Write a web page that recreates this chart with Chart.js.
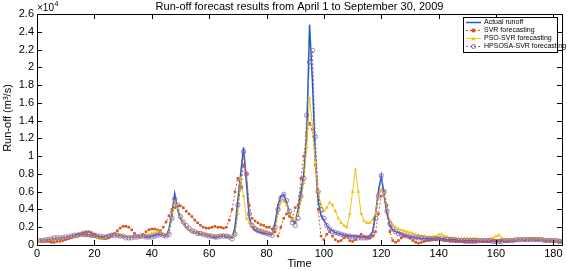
<!DOCTYPE html>
<html>
<head>
<meta charset="utf-8">
<script src="https://cdn.jsdelivr.net/npm/chart.js@4.4.0/dist/chart.umd.min.js"></script>
<style>
  html, body { margin: 0; padding: 0; background: #fff; }
</style>
</head>
<body>
<canvas id="runoff" width="567" height="271"></canvas>
<script>
// values are in units of 10^4 m3/s, days 1..183
var actual = [
  0.05,0.05,0.06,0.06,0.06,0.07,0.07,0.07,0.08,0.08,
  0.09,0.10,0.11,0.12,0.12,0.12,0.12,0.11,0.11,0.10,
  0.10,0.09,0.09,0.10,0.11,0.12,0.12,0.11,0.10,0.10,
  0.09,0.09,0.09,0.10,0.10,0.10,0.10,0.09,0.09,0.10,
  0.11,0.12,0.12,0.11,0.10,0.18,0.35,0.58,0.40,0.30,
  0.25,0.20,0.17,0.15,0.14,0.13,0.12,0.12,0.11,0.10,
  0.09,0.08,0.09,0.10,0.10,0.09,0.09,0.08,0.20,0.50,
  0.80,1.10,0.70,0.30,0.20,0.17,0.15,0.14,0.13,0.13,
  0.12,0.12,0.25,0.45,0.55,0.57,0.48,0.35,0.27,0.25,
  0.40,0.60,0.80,1.20,2.48,1.85,1.00,0.50,0.33,0.28,
  0.22,0.18,0.16,0.14,0.13,0.12,0.11,0.11,0.10,0.10,
  0.10,0.09,0.09,0.09,0.09,0.10,0.15,0.35,0.60,0.78,
  0.55,0.35,0.22,0.17,0.15,0.14,0.12,0.11,0.10,0.09,
  0.09,0.08,0.08,0.07,0.07,0.07,0.07,0.07,0.08,0.08,
  0.07,0.07,0.06,0.06,0.06,0.06,0.05,0.05,0.05,0.05,
  0.05,0.05,0.05,0.05,0.05,0.04,0.04,0.04,0.04,0.04,
  0.04,0.04,0.05,0.05,0.05,0.05,0.05,0.05,0.05,0.06,
  0.06,0.06,0.06,0.06,0.06,0.05,0.05,0.05,0.05,0.05,0.04,0.04,0.04
];
var svr = [
  0.05,0.04,0.04,0.04,0.03,0.03,0.04,0.04,0.05,0.06,
  0.07,0.08,0.09,0.10,0.12,0.14,0.15,0.15,0.14,0.12,
  0.10,0.08,0.07,0.07,0.08,0.10,0.13,0.16,0.19,0.21,
  0.21,0.20,0.17,0.13,0.10,0.09,0.12,0.15,0.17,0.18,
  0.18,0.17,0.16,0.20,0.26,0.33,0.40,0.42,0.44,0.44,
  0.42,0.38,0.35,0.32,0.28,0.25,0.22,0.20,0.19,0.19,
  0.20,0.21,0.20,0.20,0.19,0.20,0.28,0.40,0.60,0.75,
  0.65,0.90,0.80,0.45,0.30,0.27,0.25,0.23,0.22,0.20,
  0.20,0.18,0.15,0.10,0.20,0.30,0.35,0.32,0.30,0.42,
  0.45,0.75,1.00,1.25,1.37,1.30,0.90,0.40,0.10,0.06,
  0.12,0.15,0.10,0.06,0.04,0.05,0.08,0.10,0.05,0.04,
  0.06,0.10,0.12,0.10,0.08,0.08,0.10,0.15,0.35,0.55,
  0.60,0.45,0.15,0.05,0.03,0.05,0.08,0.10,0.10,0.08,
  0.05,0.03,0.02,0.03,0.04,0.05,0.05,0.06,0.06,0.07,
  0.06,0.05,0.05,0.04,0.04,0.04,0.04,0.04,0.03,0.03,
  0.03,0.03,0.03,0.04,0.04,0.04,0.04,0.04,0.05,0.05,
  0.05,0.05,0.04,0.04,0.05,0.05,0.05,0.06,0.06,0.06,
  0.07,0.07,0.07,0.06,0.06,0.06,0.05,0.05,0.05,0.05,0.04,0.04,0.03
];
var psoSvr = [
  0.05,0.05,0.05,0.06,0.06,0.06,0.07,0.07,0.07,0.08,
  0.08,0.09,0.10,0.10,0.11,0.11,0.10,0.10,0.09,0.09,
  0.08,0.07,0.07,0.08,0.10,0.11,0.12,0.12,0.11,0.10,
  0.10,0.09,0.09,0.10,0.10,0.09,0.10,0.11,0.12,0.13,
  0.14,0.15,0.14,0.12,0.11,0.14,0.30,0.50,0.42,0.32,
  0.25,0.20,0.17,0.15,0.14,0.14,0.13,0.12,0.12,0.11,
  0.10,0.10,0.10,0.11,0.11,0.10,0.10,0.10,0.12,0.35,
  0.75,0.55,0.30,0.25,0.22,0.20,0.18,0.17,0.16,0.15,
  0.14,0.13,0.18,0.35,0.48,0.50,0.45,0.35,0.28,0.28,
  0.35,0.50,0.70,1.10,1.65,1.35,0.93,0.60,0.45,0.38,
  0.42,0.48,0.45,0.38,0.30,0.25,0.22,0.20,0.35,0.60,
  0.85,0.60,0.35,0.27,0.25,0.25,0.28,0.35,0.55,0.62,
  0.58,0.40,0.28,0.22,0.20,0.18,0.17,0.16,0.15,0.14,
  0.13,0.12,0.11,0.10,0.10,0.09,0.09,0.09,0.10,0.12,
  0.12,0.10,0.09,0.08,0.08,0.08,0.07,0.07,0.07,0.07,
  0.07,0.07,0.07,0.06,0.06,0.06,0.06,0.07,0.08,0.10,
  0.11,0.08,0.06,0.06,0.06,0.06,0.06,0.06,0.06,0.07,
  0.07,0.07,0.07,0.07,0.07,0.06,0.06,0.06,0.06,0.05,0.05,0.05,0.05
];
var hpsosaSvr = [
  0.05,0.05,0.06,0.06,0.07,0.08,0.08,0.08,0.08,0.09,
  0.09,0.10,0.11,0.11,0.12,0.12,0.12,0.12,0.11,0.11,
  0.10,0.10,0.09,0.09,0.10,0.11,0.11,0.11,0.10,0.10,
  0.08,0.08,0.08,0.09,0.09,0.10,0.10,0.09,0.09,0.09,
  0.10,0.11,0.12,0.11,0.10,0.12,0.30,0.52,0.45,0.32,
  0.26,0.22,0.19,0.16,0.15,0.13,0.13,0.12,0.11,0.10,
  0.10,0.09,0.09,0.10,0.10,0.10,0.09,0.07,0.12,0.45,
  0.65,1.05,0.80,0.35,0.22,0.18,0.16,0.15,0.14,0.13,
  0.12,0.11,0.20,0.40,0.53,0.57,0.50,0.38,0.25,0.22,
  0.30,0.55,0.75,1.46,2.06,2.19,1.22,0.60,0.40,0.30,
  0.22,0.18,0.15,0.14,0.13,0.12,0.11,0.10,0.10,0.09,
  0.09,0.08,0.08,0.08,0.08,0.09,0.12,0.30,0.55,0.78,
  0.60,0.38,0.24,0.18,0.15,0.13,0.12,0.11,0.10,0.09,
  0.09,0.08,0.08,0.08,0.07,0.07,0.07,0.07,0.07,0.07,
  0.07,0.06,0.06,0.06,0.06,0.05,0.05,0.05,0.05,0.05,
  0.05,0.05,0.05,0.05,0.05,0.05,0.05,0.05,0.04,0.04,
  0.04,0.04,0.05,0.05,0.05,0.05,0.06,0.06,0.06,0.06,
  0.06,0.06,0.06,0.06,0.06,0.06,0.05,0.05,0.05,0.05,0.05,0.04,0.04
];
var xTicks = [0, 20, 40, 60, 80, 100, 120, 140, 160, 180];
var yTicks = [0, 0.2, 0.4, 0.6, 0.8, 1, 1.2, 1.4, 1.6, 1.8, 2, 2.2, 2.4, 2.6];

var fam = '"Liberation Sans", Arial, sans-serif';
var BLUE = '#1a5fc0', ORANGE = '#D95319', YELLOW = '#F0C419', PURPLE = '#8a5fb0';

function pts(arr){
  return arr.map(function(v, i){ return {x: i + 1, y: v}; });
}

// MATLAB-like box, inward ticks, title, exponent, ylabel and legend
var decor = {
  id: 'decor',
  afterDraw: function(chart){
    var ctx = chart.ctx, a = chart.chartArea;
    var xs = chart.scales.x, ys = chart.scales.y;
    ctx.save();
    ctx.strokeStyle = '#000';
    ctx.lineWidth = 1;
    ctx.strokeRect(Math.round(a.left) + 0.5, Math.round(a.top) + 0.5,
                   Math.round(a.right - a.left), Math.round(a.bottom - a.top));
    ctx.beginPath();
    xTicks.forEach(function(v){
      var px = Math.round(xs.getPixelForValue(v)) + 0.5;
      ctx.moveTo(px, a.bottom); ctx.lineTo(px, a.bottom - 5);
      ctx.moveTo(px, a.top); ctx.lineTo(px, a.top + 5);
    });
    yTicks.forEach(function(v){
      var py = Math.round(ys.getPixelForValue(v)) + 0.5;
      ctx.moveTo(a.left, py); ctx.lineTo(a.left + 5, py);
      ctx.moveTo(a.right, py); ctx.lineTo(a.right - 5, py);
    });
    ctx.stroke();

    ctx.fillStyle = '#000';
    ctx.textBaseline = 'middle';
    ctx.textAlign = 'center';
    ctx.font = '11px ' + fam;
    ctx.fillText('Run-off forecast results from April 1 to September 30, 2009', (a.left + a.right) / 2, 7);

    ctx.textAlign = 'left';
    ctx.font = '10px ' + fam;
    ctx.fillText('\u00d710', a.left, 8);
    var w = ctx.measureText('\u00d710').width;
    ctx.font = '7px ' + fam;
    ctx.fillText('4', a.left + w + 0.5, 4);

    ctx.save();
    ctx.translate(8, 118);
    ctx.rotate(-Math.PI / 2);
    ctx.textAlign = 'center';
    ctx.font = '11px ' + fam;
    ctx.fillText('Run-off (m\u00b3/s)', 0, 0);
    ctx.restore();

    // legend
    var lx = 463, ly = 17, lw = 94, lh = 35;
    ctx.fillStyle = '#fff';
    ctx.fillRect(lx, ly, lw, lh);
    ctx.strokeStyle = '#000';
    ctx.strokeRect(lx + 0.5, ly + 0.5, lw, lh);
    var items = [
      {t: 'Actual runoff', c: BLUE, dash: [], m: null},
      {t: 'SVR forecasting', c: ORANGE, dash: [2, 2], m: 'rect'},
      {t: 'PSO-SVR forecasting', c: YELLOW, dash: [], m: 'tri'},
      {t: 'HPSOSA-SVR forecasting', c: PURPLE, dash: [2, 2], m: 'circ'}
    ];
    ctx.font = '7px ' + fam;
    items.forEach(function(it, i){
      var y = ly + 5.5 + i * 8;
      ctx.strokeStyle = it.c;
      ctx.lineWidth = it.m ? 1 : 1.5;
      ctx.setLineDash(it.dash);
      ctx.beginPath(); ctx.moveTo(lx + 3, y); ctx.lineTo(lx + 18, y); ctx.stroke();
      ctx.setLineDash([]);
      var cx = lx + 10.5;
      ctx.fillStyle = it.c;
      ctx.lineWidth = 1;
      if (it.m === 'rect') ctx.fillRect(cx - 1.8, y - 1.8, 3.6, 3.6);
      if (it.m === 'tri') { ctx.beginPath(); ctx.moveTo(cx, y - 2.3); ctx.lineTo(cx + 2.3, y + 1.8); ctx.lineTo(cx - 2.3, y + 1.8); ctx.closePath(); ctx.fill(); }
      if (it.m === 'circ') { ctx.beginPath(); ctx.arc(cx, y, 2, 0, Math.PI * 2); ctx.stroke(); }
      ctx.fillStyle = '#000';
      ctx.fillText(it.t, lx + 21, y);
    });
    ctx.restore();
  }
};

var ctx = document.getElementById('runoff').getContext('2d');
var chart = new Chart(ctx, {
  type: 'line',
  data: {
    datasets: [
      { label: 'Actual runoff', data: pts(actual), borderColor: BLUE, borderWidth: 1.5,
        pointRadius: 0, order: 3 },
      { label: 'SVR forecasting', data: pts(svr), borderColor: ORANGE, borderWidth: 1,
        borderDash: [2, 2], pointStyle: 'rect', pointRadius: 1.8, pointBackgroundColor: ORANGE,
        pointBorderWidth: 0, order: 2 },
      { label: 'PSO-SVR forecasting', data: pts(psoSvr), borderColor: YELLOW, borderWidth: 1,
        pointStyle: 'triangle', pointRadius: 2.2, pointBackgroundColor: YELLOW,
        pointBorderWidth: 0, order: 1 },
      { label: 'HPSOSA-SVR forecasting', data: pts(hpsosaSvr), borderColor: PURPLE, borderWidth: 1,
        borderDash: [2, 2], pointStyle: 'circle', pointRadius: 2.2, pointBackgroundColor: 'rgba(0,0,0,0)',
        pointBorderColor: PURPLE, pointBorderWidth: 0.8, order: 0 }
    ]
  },
  options: {
    responsive: false,
    animation: false,
    layout: { padding: { top: 14, right: 5, left: 0, bottom: 0 } },
    plugins: { legend: { display: false }, tooltip: { enabled: false }, title: { display: false } },
    scales: {
      x: {
        type: 'linear', min: 0, max: 183,
        afterFit: function(s){ s.height = 26; },
        afterBuildTicks: function(s){ s.ticks = xTicks.map(function(v){ return {value: v}; }); },
        grid: { display: false, drawTicks: false, tickLength: 0 }, border: { display: false },
        ticks: { maxRotation: 0, padding: 2, color: '#000', font: { size: 11, family: fam } },
        title: { display: true, text: 'Time', padding: 0, color: '#000', font: { size: 11, family: fam } }
      },
      y: {
        min: 0, max: 2.6,
        afterFit: function(s){ s.width = 37; },
        afterBuildTicks: function(s){ s.ticks = yTicks.map(function(v){ return {value: v}; }); },
        grid: { display: false, drawTicks: false, tickLength: 0 }, border: { display: false },
        ticks: { padding: 3, color: '#000', font: { size: 11, family: fam },
                 callback: function(v){ return String(+v.toFixed(1)); } }
      }
    }
  },
  plugins: [decor]
});
</script>
</body>
</html>
